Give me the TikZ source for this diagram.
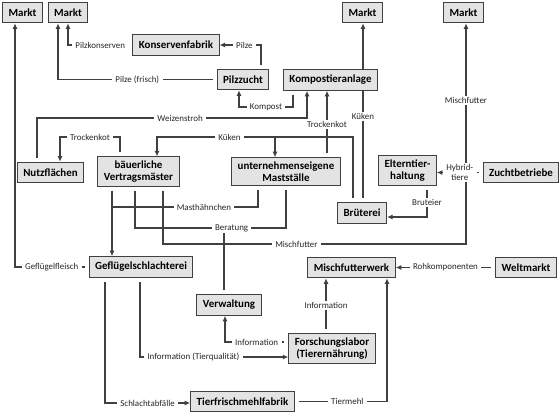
\documentclass[tikz,border=0pt]{standalone}
\usepackage{fontspec}
\setmainfont{Carlito}
\usetikzlibrary{arrows.meta,backgrounds}

\begin{document}
\begin{tikzpicture}[x=0.75pt, y=-0.75pt,
  box/.style={draw=black!75, fill=black!11, line width=0.7pt, align=center,
    minimum height=15.5pt, inner xsep=4.5pt, inner ysep=3pt,
    font=\fontsize{8.2}{8.8}\selectfont\bfseries},
  lbl/.style={fill=white, inner xsep=2.5pt, inner ysep=1pt, text=black!85,
    font=\fontsize{6.7}{7.8}\selectfont},
  flow/.style={draw=black!75, line width=0.8pt,
    -{Latex[length=4.2pt,width=3.8pt]}, shorten <=3pt},
  link/.style={draw=black!75, line width=0.8pt, shorten <=3pt}]
  \useasboundingbox (0,0) rectangle (560,412);
  \foreach \i/\x in {1/22.5, 2/68, 3/362.5, 4/463.5}
    \node[box] (markt\i) at (\x,12.5) {Markt};
  \node[box] (konserven) at (176,45) {Konservenfabrik};
  \node[box] (pilzzucht) at (243,79.5) {Pilzzucht};
  \node[box] (kompost) at (330.5,80) {Kompostieranlage};
  \node[box] (nutzflaechen) at (50.5,172.5) {Nutzflächen};
  \node[box] (baeuerlich) at (138.5,171.5) {bäuerliche\\Vertragsmäster};
  \node[box] (maststall) at (286,171.5) {unternehmenseigene\\Mastställe};
  \node[box] (eltern) at (407.5,170.5) {Elterntier-\\haltung};
  \node[box] (zucht) at (521,172.5) {Zuchtbetriebe};
  \node[box] (brueterei) at (362,213) {Brüterei};
  \node[box] (schlachterei) at (141,267) {Geflügelschlachterei};
  \node[box] (mischwerk) at (351.5,267.5) {Mischfutterwerk};
  \node[box] (weltmarkt) at (526,267.5) {Weltmarkt};
  \node[box] (verwaltung) at (229,305) {Verwaltung};
  \node[box] (labor) at (332,348.5) {Forschungslabor\\(Tierernährung)};
  \node[box] (mehlfabrik) at (242.5,401.5) {Tierfrischmehlfabrik};

  \begin{scope}[on background layer]
    \fill[white] (0,0) rectangle (560,412);
    \draw[flow] (brueterei.north -| 363,0) -- node[lbl,pos=0.48]{Küken} (markt3.south -| 363,0);
  \end{scope}

  \draw[flow] (schlachterei.west) -- node[lbl]{Geflügelfleisch} (15,0 |- schlachterei.west) -- (15,0 |- markt1.south);
  \draw[flow] (pilzzucht.west) -- node[lbl]{Pilze (frisch)} (58,0 |- pilzzucht.west) -- (58,0 |- markt2.south);
  \draw[flow] (konserven.west) -- node[lbl]{Pilzkonserven} (68,0 |- konserven.west) -- (markt2.south);
  \draw[flow] (pilzzucht.north -| 261,0) -- (261,0 |- konserven.east) -- node[lbl,pos=0.4]{Pilze} (konserven.east);
  \draw[flow] (kompost.south -| 293,0) -- (293,107) -- node[lbl]{Kompost} (239,107) -- (pilzzucht.south -| 239,0);
  \draw[flow] (nutzflaechen.north -| 37,0) -- (37,118) -- node[lbl,pos=0.53]{Weizenstroh} (307,118) -- (kompost.south -| 307,0);
  \draw[flow] (maststall.north -| 327,0) -- node[lbl]{Trockenkot} (kompost.south -| 327,0);

  \draw[flow] (brueterei.north -| 353,0) -- (353,137) -- node[lbl,pos=0.63]{Küken} (157,137) -- (baeuerlich.north -| 157,0);
  \draw[flow, shorten <=0pt] (275,137) -- (maststall.north -| 275,0);
  \draw[flow] (baeuerlich.north -| 120,0) -- (120,137) -- node[lbl]{Trockenkot} (60,137) -- (nutzflaechen.north -| 60,0);

  \draw[link] (maststall.south -| 258,0) -- (258,207) -- node[lbl,pos=0.37]{Masthähnchen} (112,207);
  \draw[flow] (baeuerlich.south -| 112,0) -- (schlachterei.north -| 112,0);
  \draw[link] (verwaltung.north -| 224,0) -- (224,228);
  \draw[link, shorten >=3pt] (baeuerlich.south -| 135,0) -- (135,228) -- node[lbl,pos=0.64]{Beratung} (286,228) -- (maststall.south -| 286,0);
  \draw[flow] (baeuerlich.south -| 163,0) -- (163,244) -- node[lbl,pos=0.44]{Mischfutter} (466,244) -- node[lbl,pos=0.65]{Mischfutter} (markt4.south -| 466,0);

  \draw[flow] (zucht.west) -- node[lbl,align=center]{Hybrid-\\tiere} (zucht.west -| eltern.east);
  \draw[flow] (eltern.south -| 427,0) -- node[lbl,pos=0.55]{Bruteier} (427,217) -- (brueterei.east |- 0,217);
  \draw[flow] (weltmarkt.west) -- node[lbl]{Rohkomponenten} (mischwerk.east);

  \draw[flow] (labor.north -| 326,0) -- node[lbl]{Information} (mischwerk.south -| 326,0);
  \draw[flow] (mehlfabrik.east) -- node[lbl,pos=0.57]{Tiermehl} (387,0 |- mehlfabrik.east) -- (mischwerk.south -| 387,0);
  \draw[flow] (labor.west |- 0,342) -- node[lbl]{Information} (225,342) -- (verwaltung.south -| 225,0);
  \draw[flow] (schlachterei.south -| 140,0) -- (140,357) -- node[lbl,pos=0.36]{Information (Tierqualität)} (labor.west |- 0,357);
  \draw[flow] (schlachterei.south -| 105,0) -- (105,403) -- node[lbl]{Schlachtabfälle} (mehlfabrik.west |- 0,403);
\end{tikzpicture}
\end{document}
